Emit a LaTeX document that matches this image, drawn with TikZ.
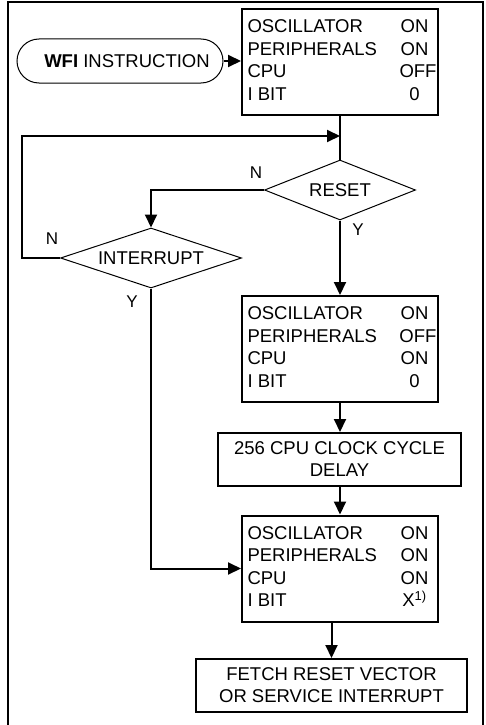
\documentclass[tikz,border=0pt]{standalone}
\usepackage{fontspec}
\setmainfont{Liberation Sans}
\usepackage{array}
\usetikzlibrary{shapes.geometric,arrows.meta}
\newcommand{\stab}[4]{\begin{tabular}{@{}p{152pt}@{}>{\centering\arraybackslash}p{30pt}@{}}OSCILLATOR & #1\\ PERIPHERALS & #2\\ CPU & #3\\ I BIT & #4\end{tabular}\hspace*{3pt}}
\begin{document}
\begin{tikzpicture}[x=1pt,y=-1pt,
  every node/.style={font=\fontsize{18.5}{22.5}\selectfont},
  statebox/.style={draw, line width=2pt, minimum width=196pt, minimum height=106pt, inner sep=0pt},
  plainbox/.style={draw, line width=2pt, inner sep=0pt, align=center, font=\fontsize{18.5}{22}\selectfont},
  term/.style={draw, line width=1pt, rounded corners=22pt, minimum width=206pt, minimum height=44pt, inner sep=0pt},
  dec/.style={shape=diamond, aspect=3.5, draw, line width=1pt, inner sep=0pt},
  conn/.style={line width=2pt},
  arr/.style={conn, -{Triangle[length=13pt,width=12pt]}},
  lbl/.style={font=\fontsize{17}{20}\selectfont, inner sep=0pt}]
\useasboundingbox (0,0) rectangle (485,725);
% outer frame
\draw[line width=2pt] (8,740) -- (8,2.5) -- (483,2.5) -- (483,740);

\node[term] (wfi) at (120,61) {\hspace*{14pt}{\bfseries WFI} INSTRUCTION};
\node[statebox] (b1) at (340,62) {\stab{ON}{ON}{OFF}{0}};
\node[dec, minimum width=151pt, minimum height=60pt] (reset) at (340,190) {RESET};
\node[dec, minimum width=181pt, minimum height=60pt] (intr) at (151,258) {INTERRUPT};
\node[statebox] (b2) at (340,349) {\stab{ON}{OFF}{ON}{0}};
\node[plainbox, minimum width=243pt, minimum height=53pt] (delay) at (339.5,459.5) {256 CPU CLOCK CYCLE\\DELAY};
\node[statebox] (b3) at (340,568.5) {\stab{ON}{ON}{ON}{X\textsuperscript{1)}}};
\node[plainbox, minimum width=271pt, minimum height=53pt] (fetch) at (331.5,685.5) {FETCH RESET VECTOR\\OR SERVICE INTERRUPT};

\node[lbl] (n1) at (256,173) {N};
\node[lbl] (n2) at (52,239) {N};
\node[lbl] (y1) at (358,230) {Y};
\node[lbl] (y2) at (132,302) {Y};

\coordinate (j) at (340,136);
\coordinate (loopL) at (22,136);

\draw[arr] (wfi.east) -- (wfi.east -| b1.west);
\draw[conn] (b1.south) -- (reset.north);
\draw[arr] (intr.west) -| (loopL) -- (j);
\draw[arr] (reset.west) -| (intr.north);
\draw[arr] (reset.south) -- (b2.north);
\draw[arr] (b2.south) -- (delay.north -| b2.south);
\draw[arr] (delay.south -| b3.north) -- (b3.north);
\draw[arr] (intr.south) |- (b3.west);
\draw[arr] (fetch.north |- b3.south) -- (fetch.north);
\end{tikzpicture}
\end{document}
